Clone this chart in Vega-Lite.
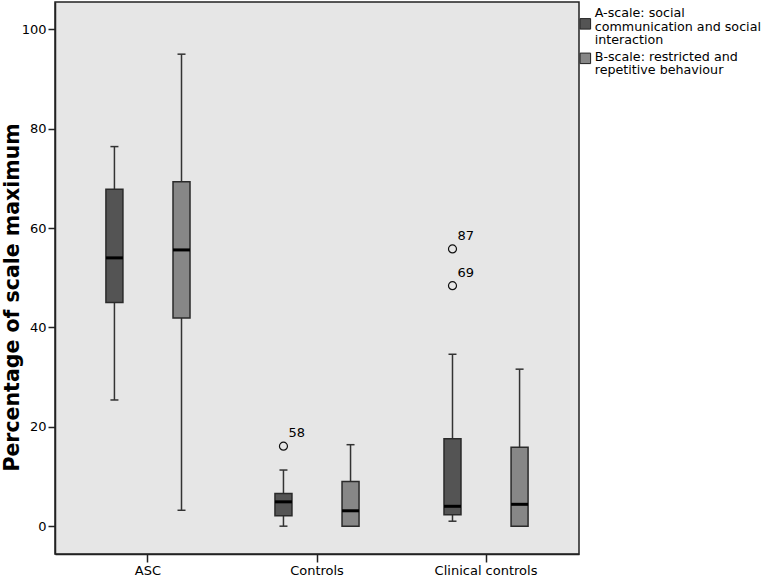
{
  "$schema": "https://vega.github.io/schema/vega-lite/v6.json",
  "width": 524,
  "height": 552,
  "autosize": {"type": "none"},
  "padding": {"left": 55, "top": 2, "right": 186, "bottom": 22},
  "background": "white",
  "config": {
    "font": "DejaVu Sans",
    "view": {"fill": "#e6e6e6", "stroke": "#222222", "strokeWidth": 1.5},
    "axis": {"domainColor": "#222222", "tickColor": "#222222", "labelColor": "#000000", "titleColor": "#000000", "grid": false, "labelFontSize": 13, "domainWidth": 1.5, "tickWidth": 1.5}
  },
  "datasets": {
    "boxes": [
      {"group": "ASC", "scale": "A-scale: social communication and social interaction", "lower": 25.4, "q1": 45.0, "median": 54.0, "q3": 67.8, "upper": 76.4},
      {"group": "ASC", "scale": "B-scale: restricted and repetitive behaviour", "lower": 3.2, "q1": 41.9, "median": 55.6, "q3": 69.3, "upper": 95.0},
      {"group": "Controls", "scale": "A-scale: social communication and social interaction", "lower": 0, "q1": 2.1, "median": 4.9, "q3": 6.6, "upper": 11.3},
      {"group": "Controls", "scale": "B-scale: restricted and repetitive behaviour", "lower": 0, "q1": 0, "median": 3.1, "q3": 9.0, "upper": 16.4},
      {"group": "Clinical controls", "scale": "A-scale: social communication and social interaction", "lower": 1.0, "q1": 2.3, "median": 4.0, "q3": 17.6, "upper": 34.6},
      {"group": "Clinical controls", "scale": "B-scale: restricted and repetitive behaviour", "lower": 0, "q1": 0, "median": 4.4, "q3": 15.9, "upper": 31.6}
    ],
    "outliers": [
      {"group": "Controls", "scale": "A-scale: social communication and social interaction", "value": 16.1, "case": "58"},
      {"group": "Clinical controls", "scale": "A-scale: social communication and social interaction", "value": 55.8, "case": "87"},
      {"group": "Clinical controls", "scale": "A-scale: social communication and social interaction", "value": 48.4, "case": "69"}
    ]
  },
  "encoding": {
    "x": {
      "field": "group", "type": "nominal", "sort": ["ASC", "Controls", "Clinical controls"],
      "scale": {"paddingInner": 0, "paddingOuter": 0.05},
      "axis": {"title": null, "labelAngle": 0, "tickSize": 8, "labelPadding": 2, "labelFontSize": 13}
    },
    "xOffset": {
      "field": "scale", "type": "nominal",
      "sort": ["A-scale: social communication and social interaction", "B-scale: restricted and repetitive behaviour"],
      "scale": {"paddingInner": 0, "paddingOuter": 0.26}
    }
  },
  "layer": [
    {
      "data": {"name": "boxes"},
      "mark": {"type": "rule", "color": "#333333", "strokeWidth": 1.5},
      "encoding": {
        "y": {"field": "lower", "type": "quantitative", "scale": {"domain": [-5.6, 105.5], "nice": false, "zero": false},
          "axis": {"title": "Percentage of scale maximum", "values": [0, 20, 40, 60, 80, 100], "tickSize": 7, "labelPadding": 2, "titleFontSize": 20.5, "titleFontWeight": "bold", "titleX": -37, "titleY": 295, "titleBaseline": "alphabetic"}},
        "y2": {"field": "upper"}
      }
    },
    {
      "data": {"name": "boxes"},
      "mark": {"type": "tick", "color": "#333333", "size": 8, "thickness": 1.5, "opacity": 1},
      "encoding": {"y": {"field": "upper", "type": "quantitative"}}
    },
    {
      "data": {"name": "boxes"},
      "mark": {"type": "tick", "color": "#333333", "size": 8, "thickness": 1.5, "opacity": 1},
      "encoding": {"y": {"field": "lower", "type": "quantitative"}}
    },
    {
      "data": {"name": "boxes"},
      "mark": {"type": "bar", "size": 17, "stroke": "#2a2a2a", "strokeWidth": 1.5, "opacity": 1},
      "encoding": {
        "y": {"field": "q1", "type": "quantitative"},
        "y2": {"field": "q3"},
        "color": {
          "field": "scale", "type": "nominal",
          "scale": {"domain": ["A-scale: social communication and social interaction", "B-scale: restricted and repetitive behaviour"], "range": ["#545454", "#878787"]},
          "legend": {
            "title": null, "orient": "none", "legendX": 524, "legendY": 15.5, "padding": 0,
            "symbolType": "square", "symbolSize": 110, "symbolStrokeColor": "#222222", "symbolStrokeWidth": 1, "symbolOpacity": 1,
            "labelFontSize": 12.7, "labelColor": "#000000", "labelLimit": 300, "labelOffset": 3, "rowPadding": 2.5,
            "labelExpr": "datum.label == 'A-scale: social communication and social interaction' ? ['A-scale: social', 'communication and social', 'interaction'] : ['B-scale: restricted and', 'repetitive behaviour']",
            "encode": {"labels": {"update": {"lineHeight": {"value": 13.3}, "dy": {"signal": "datum.value == 'A-scale: social communication and social interaction' ? -10.5 : -1.7"}}}}
          }
        }
      }
    },
    {
      "data": {"name": "boxes"},
      "mark": {"type": "tick", "color": "#000000", "size": 17, "thickness": 3, "opacity": 1},
      "encoding": {"y": {"field": "median", "type": "quantitative"}}
    },
    {
      "data": {"name": "outliers"},
      "mark": {"type": "point", "shape": "circle", "filled": false, "size": 64, "stroke": "#111111", "strokeWidth": 1.2, "opacity": 1},
      "encoding": {"y": {"field": "value", "type": "quantitative"}}
    },
    {
      "data": {"name": "outliers"},
      "mark": {"type": "text", "align": "left", "baseline": "alphabetic", "dx": 5, "dy": -9, "fontSize": 13, "color": "#000000"},
      "encoding": {"y": {"field": "value", "type": "quantitative"}, "text": {"field": "case"}}
    }
  ]
}
